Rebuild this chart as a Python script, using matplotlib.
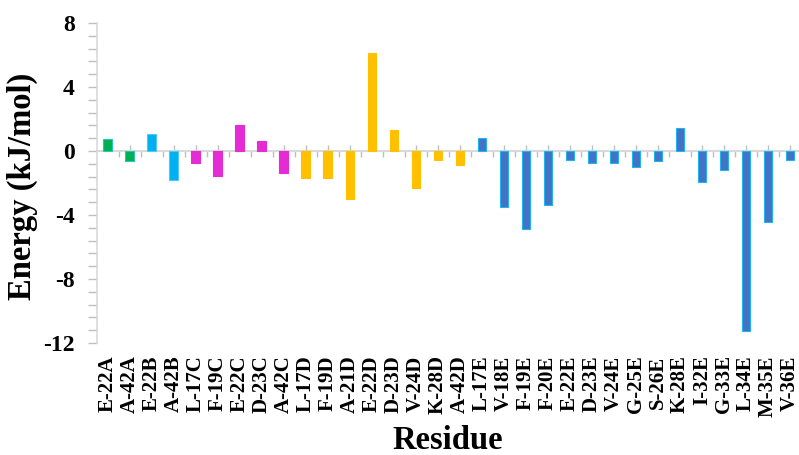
import numpy as np
import matplotlib
matplotlib.use('Agg')
import matplotlib.pyplot as plt
from matplotlib.ticker import MultipleLocator, FixedLocator

plt.rcParams['font.family'] = ['Liberation Serif', 'DejaVu Serif']
plt.rcParams['font.weight'] = 'bold'
plt.rcParams['axes.unicode_minus'] = False

# residues per chain
residues_a = ['E-22A', 'A-42A']
residues_b = ['E-22B', 'A-42B']
residues_c = ['L-17C', 'F-19C', 'E-22C', 'D-23C', 'A-42C']
residues_d = ['L-17D', 'F-19D', 'A-21D', 'E-22D', 'D-23D', 'V-24D', 'K-28D', 'A-42D']
residues_e = ['L-17E', 'V-18E', 'F-19E', 'F-20E', 'E-22E', 'D-23E', 'V-24E', 'G-25E',
              'S-26E', 'K-28E', 'I-32E', 'G-33E', 'L-34E', 'M-35E', 'V-36E']

# energy (kJ/mol)
energy_a = [0.73, -0.65]
energy_b = [1.08, -1.83]
energy_c = [-0.75, -1.58, 1.60, 0.60, -1.40]
energy_d = [-1.69, -1.69, -3.00, 6.12, 1.33, -2.33, -0.58, -0.85]
energy_e = [0.81, -3.48, -4.90, -3.40, -0.56, -0.75, -0.77, -1.00,
            -0.65, 1.46, -1.94, -1.19, -11.25, -4.42, -0.54]

chains = [
    (residues_a, energy_a, '#00B050', '#29C3C0'),
    (residues_b, energy_b, '#00B0F0', '#4FC8F5'),
    (residues_c, energy_c, '#E52BD3', '#E52BD3'),
    (residues_d, energy_d, '#FFC000', '#FFC000'),
    (residues_e, energy_e, '#4472C4', '#1FB4F0'),
]

labels = []
fig = plt.figure(figsize=(7.99, 4.55), dpi=100)
ax = fig.add_axes([0.1208, 0.2462, 0.8817, 0.7033])

start = 0
for res, en, fc, ec in chains:
    x = np.arange(start, start + len(res))
    ax.bar(x, en, width=0.38, color=fc, edgecolor=ec, linewidth=0.8, zorder=2)
    labels += res
    start += len(res)

n = len(labels)
ax.set_xlim(-0.5, n - 0.5)
ax.set_ylim(-12, 8)
ax.set_yticks([8, 4, 0, -4, -8, -12])
ax.yaxis.set_minor_locator(MultipleLocator(0.8))
ax.tick_params(axis='y', which='both', direction='out', length=6.5, width=1,
               color='#BFBFBF', labelsize=17, pad=9)
ax.set_xticks(np.arange(n))
ax.set_xticklabels(labels, rotation=90, fontsize=15, fontweight='bold')
ax.tick_params(axis='x', length=0, pad=9)

for s in ['top', 'right', 'bottom']:
    ax.spines[s].set_visible(False)
ax.spines['left'].set_color('#D9D9D9')
ax.spines['left'].set_linewidth(1.2)

# zero line with category ticks
sec = ax.secondary_xaxis(0, transform=ax.transData)
sec.spines['bottom'].set_color('#D9D9D9')
sec.spines['bottom'].set_linewidth(1.5)
sec.xaxis.set_major_locator(FixedLocator(np.arange(n)))
sec.xaxis.set_minor_locator(FixedLocator(np.arange(n - 1) + 0.5))
sec.tick_params(axis='x', which='major', direction='in', length=4.5, width=1,
                color='#BFBFBF', labelbottom=False)
sec.tick_params(axis='x', which='minor', direction='out', length=4.5, width=1,
                color='#BFBFBF')

fig.text(0.028, 0.59, 'Energy (kJ/mol)', rotation=90, ha='center', va='center',
         fontsize=23.5, fontweight='bold')
fig.text(0.561, 0.031, 'Residue', ha='center', va='center',
         fontsize=23.5, fontweight='bold')

plt.savefig('out.png', dpi=100)
